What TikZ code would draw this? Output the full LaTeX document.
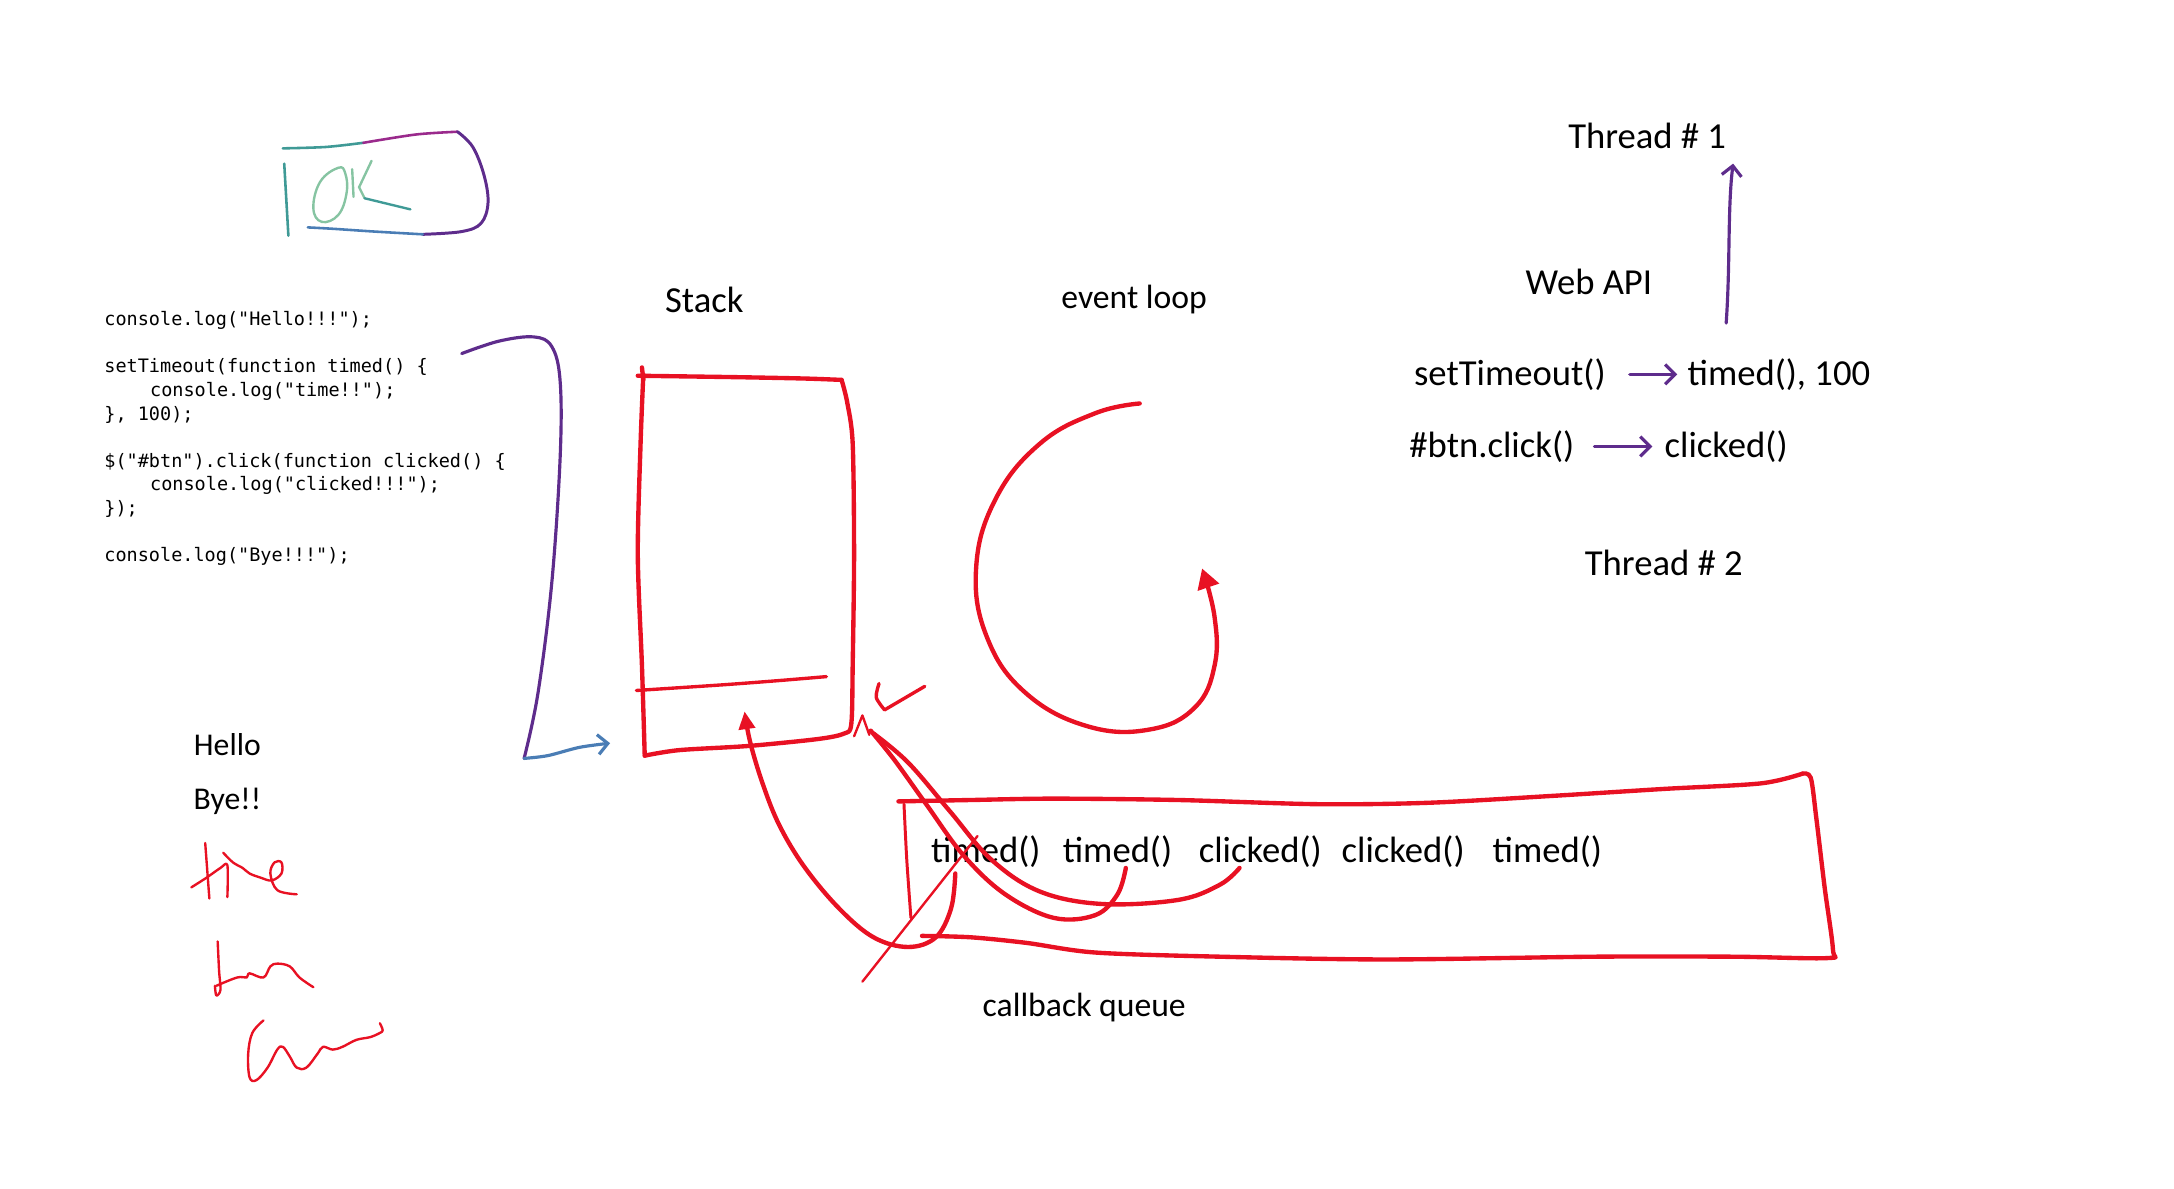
\documentclass[tikz,border=0pt]{standalone}
\usepackage{fontspec}
\setmainfont{Carlito}
\newfontfamily\codefont{DejaVu Sans Mono}
\usetikzlibrary{positioning,arrows.meta}

\definecolor{inkred}{HTML}{E81123}
\definecolor{inkpurple}{HTML}{5E2C8C}
\definecolor{inkmagenta}{HTML}{9A2A8C}
\definecolor{inkteal}{HTML}{3F9A96}
\definecolor{inkgreen}{HTML}{86C4A2}
\definecolor{inkblue}{HTML}{4A7DB5}

\tikzset{
  hand/.style={font=\fontsize{18.5}{20}\selectfont, inner sep=0pt},
  note/.style={font=\fontsize{16}{18}\selectfont, inner sep=0pt},
  code/.style={font=\codefont\fontsize{9.35}{11}\selectfont, anchor=west, inner sep=0pt},
  redink/.style={draw=inkred, line width=2.2pt, line cap=round, line join=round},
  thinred/.style={draw=inkred, line width=1.2pt, line cap=round, line join=round},
  purpleink/.style={draw=inkpurple, line width=1.6pt, line cap=round, line join=round},
  barb/.style={-{Straight Barb[length=5pt,width=10pt]}},
}

\begin{document}
\begin{tikzpicture}[x=0.7pt,y=-0.7pt]
  \useasboundingbox (0,0) rectangle (1568,857);

  % IDK box
  \draw[line width=1.3pt,draw=inkteal,line cap=round] (205,118) -- (208,170);
  \draw[line width=1.3pt,draw=inkteal,line cap=round] plot[smooth] coordinates {(204,107) (235,106) (262,103)};
  \draw[line width=1.3pt,draw=inkmagenta,line cap=round] plot[smooth] coordinates {(262,103) (300,97) (330,95)};
  \draw[line width=1.5pt,draw=inkpurple,line cap=round] plot[smooth, tension=0.6] coordinates {(330,95) (341,106) (349,126) (352,146) (347,161) (333,167) (305,169)};
  \draw[line width=1.3pt,draw=inkblue,line cap=round] plot[smooth] coordinates {(305,169) (270,167) (240,165) (222,164)};
  \draw[line width=1.2pt,draw=inkgreen,line cap=round] plot[smooth cycle, tension=0.7] coordinates {(244,121) (231,131) (226,150) (232,160) (244,155) (250,139) (249,125)};
  \draw[line width=1.2pt,draw=inkgreen,line cap=round] (254,122) -- (255,142);
  \draw[line width=1.2pt,draw=inkgreen,line cap=round] (268,116) -- (259,135) -- (263,143);
  \draw[line width=1.2pt,draw=inkteal,line cap=round] (263,143) -- (296,151);

  % code
  \node[code] (c1) at (75,231) {console.log("Hello!!!");};
  \node[code] (c2) at (75,265) {setTimeout(function timed() \{};
  \node[code] (c3) at (108,282) {console.log("time!!");};
  \node[code] (c4) at (75,299) {\}, 100);};
  \node[code] (c5) at (75,333) {\$("\#btn").click(function clicked() \{};
  \node[code] (c6) at (108,350) {console.log("clicked!!!");};
  \node[code] (c7) at (75,367) {\});};
  \node[code] (c8) at (75,401) {console.log("Bye!!!");};

  % bracket from code to stack
  \draw[purpleink] plot[smooth, tension=0.6] coordinates {(333,255) (360,246) (385,243) (398,250) (404,275) (404,330) (398,420) (388,500) (378,547)};
  \draw[draw=inkblue,line width=1.6pt,line cap=round,barb] plot[smooth] coordinates {(378,547) (395,545) (418,539) (440,536)};

  % output
  \node[note] (hello) at (164,537) {Hello};
  \node[note] (bye) at (164,578) {Bye!!};
  \draw[thinred] (148,608) -- (151,648);
  \draw[thinred] plot[smooth] coordinates {(138,640) (149,633) (159,626) (164,624) (164,647)};
  \draw[thinred] plot[smooth, tension=0.6] coordinates {(161,615) (168,622) (175,626) (180,630) (188,633) (196,635) (203,630) (203,622) (198,622) (195,630) (200,642) (214,645)};
  \draw[thinred] plot[smooth] coordinates {(157,679) (158,700) (159,714) (156,718) (155,711)};
  \draw[thinred] plot[smooth, tension=0.6] coordinates {(156,711) (171,705) (178,705) (180,702) (190,705) (195,697) (200,695) (209,697) (216,705) (226,712)};
  \draw[thinred] plot[smooth, tension=0.6] coordinates {(190,736) (182,745) (179,760) (180,777) (185,779) (193,770) (200,757) (204,755) (209,762) (214,770) (221,770) (229,760) (233,755) (240,757) (247,755) (257,750) (267,748) (274,745) (276,743) (274,738)};

  % stack
  \node[hand] (stack) at (508,216) {Stack};
  \draw[redink] (463,265) -- (464,274);
  \draw[redink] plot[smooth] coordinates {(460,271) (530,272) (580,273) (607,274)};
  \draw[redink] plot[smooth, tension=0.5] coordinates {(607,274) (611,290) (615,320) (616,400) (615,480) (614,522) (609,529) (590,533) (540,538) (490,541) (465,545)};
  \draw[redink] plot[smooth, tension=0.5] coordinates {(465,545) (463,480) (460,400) (462,320) (464,270)};
  \draw[redink, line width=1.7pt] plot[smooth] coordinates {(459,498) (520,494) (560,491) (596,488)};

  % event loop
  \node[hand, font=\fontsize{17}{19}\selectfont] (loop) at (818,216) {event loop};
  \draw[redink,-{Triangle[length=10pt,width=11pt]}] plot[smooth, tension=0.7] coordinates {(822,291) (790,298) (750,320) (718,360) (704,410) (712,460) (740,500) (785,524) (830,526) (862,510) (876,480) (876,445) (867,410)};
  \draw[redink, line width=1.7pt] plot[smooth] coordinates {(634,493) (632,503) (638,512)} -- (667,495);

  % callback queue
  \draw[redink] plot[smooth] coordinates {(648,578) (700,577) (760,576) (850,577) (950,580) (1030,579) (1120,574) (1200,569) (1270,565) (1300,558)};
  \draw[redink] plot[smooth, tension=0.5] coordinates {(1300,558) (1306,561) (1310,590) (1316,640) (1322,685) (1318,691) (1250,690) (1150,690) (1000,692) (880,690) (790,687) (740,680) (700,676) (665,675)};
  \draw[redink, line width=1.5pt] plot[smooth] coordinates {(652,580) (654,620) (657,662)};
  \node[hand] (q1) at (711,614) {timed()};
  \node[hand] (q2) at (806,614) {timed()};
  \node[hand] (q3) at (909,614) {clicked()};
  \node[hand] (q4) at (1012,614) {clicked()};
  \node[hand] (q5) at (1116,614) {timed()};
  \node[hand, font=\fontsize{17}{19}\selectfont] (queue) at (782,727) {callback queue};

  % queue -> stack
  \draw[redink,-{Triangle[length=9pt,width=8pt]}] plot[smooth, tension=0.6] coordinates {(689,630) (686,655) (675,676) (655,683) (630,676) (605,655) (580,625) (562,595) (550,565) (541,535) (537,513)};
  \draw[thinred] (622,708) -- (705,603);
  \draw[thinred] (616,531) -- (622,516) -- (627,530);
  \draw[redink] plot[smooth, tension=0.6] coordinates {(628,527) (645,548) (668,580) (695,617) (725,645) (760,662) (790,660) (806,645) (812,626)};
  \draw[redink] plot[smooth, tension=0.6] coordinates {(630,529) (655,550) (685,585) (715,620) (750,643) (795,652) (850,649) (880,638) (894,626)};

  % web api
  \node[hand] (th1) at (1188,98) {Thread \# 1};
  \node[hand] (api) at (1146,203) {Web API};
  \node[hand] (th2) at (1200,406) {Thread \# 2};
  \node[hand] (st) at (1089,270) {setTimeout()};
  \node[hand] (td) at (1283,270) {timed(), 100};
  \node[hand] (bc) at (1076,322) {\#btn.click()};
  \node[hand] (ck) at (1245,322) {clicked()};
  \coordinate (up0) at (1245,233);
  \coordinate (up1) at (1250,118);
  \draw[purpleink,barb] (up0) .. controls (1248,190) and (1246,150) .. (up1);
  \draw[purpleink,barb,shorten <=12pt,shorten >=5pt] (st.east) -- (td.west);
  \draw[purpleink,barb,shorten <=10pt,shorten >=6pt] (bc.east) -- (ck.west);
\end{tikzpicture}
\end{document}
